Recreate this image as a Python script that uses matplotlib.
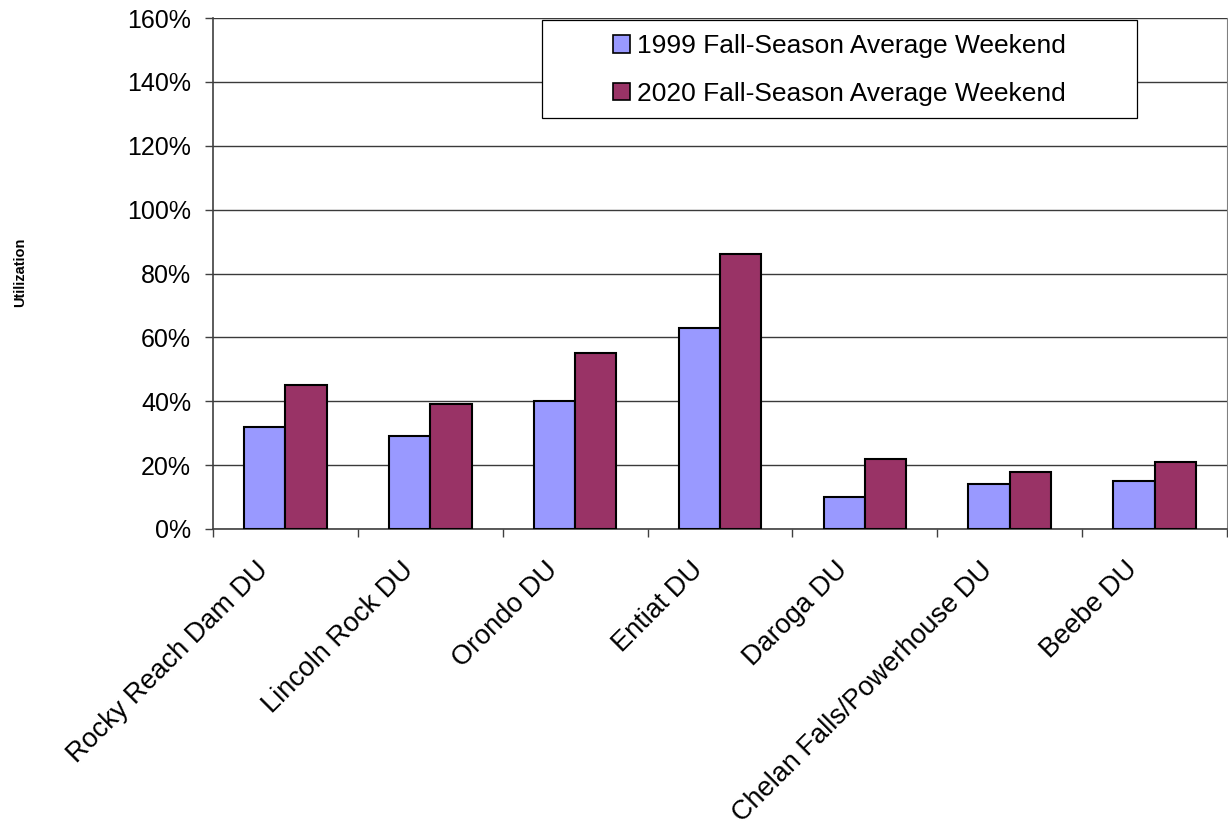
import matplotlib
matplotlib.use("Agg")
import matplotlib.pyplot as plt
import matplotlib.transforms as mtransforms
import numpy as np
from matplotlib.patches import Patch, Rectangle

categories = ["Rocky Reach Dam DU", "Lincoln Rock DU", "Orondo DU", "Entiat DU",
              "Daroga DU", "Chelan Falls/Powerhouse DU", "Beebe DU"]
series_1999 = [32, 29, 40, 63, 10, 14, 15]
series_2020 = [45, 39, 55, 86, 22, 18, 21]
series_names = ["1999 Fall-Season Average Weekend", "2020 Fall-Season Average Weekend"]
y_ticks = [0, 20, 40, 60, 80, 100, 120, 140, 160]

plt.rcParams["font.family"] = ["Liberation Sans", "DejaVu Sans"]

W, H = 1228, 831
fig = plt.figure(figsize=(W / 100, H / 100), dpi=100)
ax = fig.add_axes([213 / W, 1 - 529 / H, (1227 - 213) / W, (529 - 18) / H])

x = np.arange(len(categories))
w = 0.285
c1, c2 = "#9999FF", "#993366"
ax.bar(x - w / 2, series_1999, w, color=c1, edgecolor="black", linewidth=1.5, zorder=3)
ax.bar(x + w / 2, series_2020, w, color=c2, edgecolor="black", linewidth=1.5, zorder=3)

ax.set_xlim(-0.5, len(categories) - 0.5)
ax.set_ylim(0, 160)
ax.set_yticks(y_ticks)
ax.set_yticklabels([f"{v}%" for v in y_ticks], fontsize=18)
ax.yaxis.grid(True, color="#3a3a3a", linewidth=1.0, zorder=0)
ax.tick_params(axis="y", direction="out", length=5.8, width=1.0, color="#404040", pad=10)

# Category ticks sit between groups; labels centred under each group
ax.set_xticks(np.arange(len(categories) + 1) - 0.5)
ax.set_xticklabels([])
ax.tick_params(axis="x", direction="out", length=5.8, width=1.0, color="#404040")
ax.set_xticks(x, minor=True)
ax.set_xticklabels(categories, minor=True, rotation=45, ha="right", va="top",
                   rotation_mode="anchor", fontsize=19.5)
ax.tick_params(axis="x", which="minor", length=0, pad=20)
shift = mtransforms.ScaledTranslation(-30 / 100, 0, fig.dpi_scale_trans)
for lab in ax.get_xticklabels(minor=True):
    lab.set_transform(lab.get_transform() + shift)

ax.spines["top"].set_visible(False)
ax.spines["right"].set_color("#808080")
for s in ["left", "bottom"]:
    ax.spines[s].set_color("#404040")
    ax.spines[s].set_linewidth(1.2)

fig.text(20 / W, 1 - 272 / H, "Utilization", rotation=90, ha="center", va="center",
         fontsize=10.5, fontweight="bold")

# Legend box with centred entries
box = Rectangle((542 / W, 1 - 118 / H), (1137 - 542) / W, (118 - 20) / H,
                transform=fig.transFigure, facecolor="white", edgecolor="black",
                linewidth=0.9, zorder=5)
fig.add_artist(box)
handles = [Patch(facecolor=c1, edgecolor="black", linewidth=1.2),
           Patch(facecolor=c2, edgecolor="black", linewidth=1.2)]
leg = fig.legend(handles, series_names, loc="center",
                 bbox_to_anchor=((542 + 1137) / 2 / W, 1 - 70 / H),
                 bbox_transform=fig.transFigure,
                 fontsize=19, frameon=False,
                 handlelength=0.65, handleheight=0.65, handletextpad=0.25,
                 labelspacing=0.9, borderpad=0)
leg.set_zorder(6)

fig.savefig("out.png", dpi=100, facecolor="white")
